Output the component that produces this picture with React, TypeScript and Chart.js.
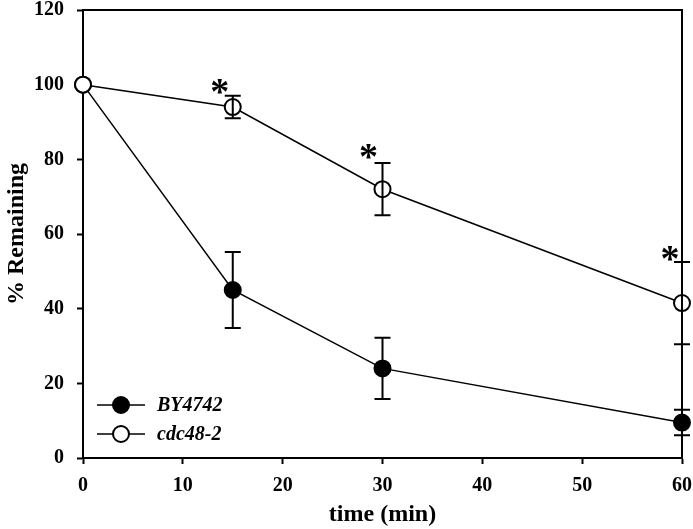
import React, { useEffect, useRef } from "react";
import { Chart, registerables } from "chart.js";

Chart.register(...registerables);

const times = [0, 15, 30, 60];
const by4742 = [100, 45, 24, 9.5];
const by4742Err = [0, 10.2, 8.2, 3.4];
const cdc48 = [100, 94, 72, 41.5];
const cdc48Err = [0, 3, 7, 11];
const asteriskX = [13.7, 28.6, 58.8];
const asteriskY = [99.6, 82, 54.9];
const xTicks = [0, 10, 20, 30, 40, 50, 60];
const yTicks = [0, 20, 40, 60, 80, 100, 120];

const SERIF = "'Liberation Serif', 'Times New Roman', serif";

const extrasPlugin = {
  id: "extras",
  afterDatasetsDraw(chart: any) {
    const { ctx, chartArea, scales } = chart;
    const xs = scales.x;
    const ys = scales.y;
    ctx.save();
    // frame (top and right)
    ctx.strokeStyle = "#000";
    ctx.lineWidth = 2;
    ctx.beginPath();
    ctx.moveTo(chartArea.left - 1, chartArea.top);
    ctx.lineTo(chartArea.right, chartArea.top);
    ctx.lineTo(chartArea.right, chartArea.bottom + 1);
    ctx.stroke();

    // error bars
    const drawErr = (vals: number[], errs: number[]) => {
      vals.forEach((v, i) => {
        const e = errs[i];
        if (!e) return;
        const px = xs.getPixelForValue(times[i]);
        const top = ys.getPixelForValue(v + e);
        const bot = ys.getPixelForValue(v - e);
        ctx.beginPath();
        ctx.moveTo(px, top);
        ctx.lineTo(px, bot);
        ctx.moveTo(px - 8, top);
        ctx.lineTo(px + 8, top);
        ctx.moveTo(px - 8, bot);
        ctx.lineTo(px + 8, bot);
        ctx.stroke();
      });
    };
    ctx.lineWidth = 2;
    drawErr(by4742, by4742Err);
    drawErr(cdc48, cdc48Err);

    // asterisks
    ctx.fillStyle = "#000";
    ctx.font = `bold 38px ${SERIF}`;
    ctx.textAlign = "center";
    ctx.textBaseline = "alphabetic";
    const m = ctx.measureText("*");
    const off = (m.actualBoundingBoxAscent - m.actualBoundingBoxDescent) / 2;
    asteriskX.forEach((ax, i) => {
      const px = xs.getPixelForValue(ax);
      const py = ys.getPixelForValue(asteriskY[i]);
      ctx.fillText("*", px, py + off);
    });

    // legend
    const rows = [
      { label: "BY4742", fill: "#000", y: chartArea.bottom - 53 },
      { label: "cdc48-2", fill: "#fff", y: chartArea.bottom - 24 },
    ];
    rows.forEach((r) => {
      const x0 = chartArea.left + 14;
      const x1 = chartArea.left + 62;
      ctx.strokeStyle = "#000";
      ctx.lineWidth = 1.5;
      ctx.beginPath();
      ctx.moveTo(x0, r.y);
      ctx.lineTo(x1, r.y);
      ctx.stroke();
      ctx.beginPath();
      ctx.arc((x0 + x1) / 2, r.y, 8, 0, Math.PI * 2);
      ctx.fillStyle = r.fill;
      ctx.fill();
      ctx.lineWidth = 2;
      ctx.stroke();
      ctx.fillStyle = "#000";
      ctx.font = `italic bold 20px ${SERIF}`;
      ctx.textAlign = "left";
      ctx.textBaseline = "middle";
      ctx.fillText(r.label, chartArea.left + 74, r.y + 1);
    });
    ctx.restore();
  },
};

export default function App() {
  const ref = useRef<HTMLCanvasElement>(null);
  useEffect(() => {
    if (!ref.current) return;
    const chart = new Chart(ref.current, {
      type: "scatter",
      data: {
        datasets: [
          {
            label: "cdc48-2",
            data: times.map((t, i) => ({ x: t, y: cdc48[i] })),
            showLine: true,
            borderColor: "#000",
            borderWidth: 1.5,
            pointRadius: 8,
            pointBackgroundColor: "#fff",
            pointBorderColor: "#000",
            pointBorderWidth: 2,
            clip: false,
          } as any,
          {
            label: "BY4742",
            data: times.map((t, i) => ({ x: t, y: by4742[i] })),
            showLine: true,
            borderColor: "#000",
            borderWidth: 1.5,
            pointRadius: 8,
            pointBackgroundColor: "#000",
            pointBorderColor: "#000",
            pointBorderWidth: 2,
            clip: false,
          } as any,
        ],
      },
      options: {
        animation: false,
        responsive: false,
        maintainAspectRatio: false,
        layout: { padding: { top: 7, right: 11, left: 0, bottom: 0 } },
        plugins: {
          legend: { display: false },
          tooltip: { enabled: false },
        },
        scales: {
          x: {
            type: "linear",
            min: 0,
            max: 60,
            afterBuildTicks: (s: any) => {
              s.ticks = xTicks.map((v) => ({ value: v }));
            },
            afterFit: (s: any) => {
              s.height = 71;
              s.paddingLeft = 0;
              s.paddingRight = 0;
            },
            ticks: {
              color: "#000",
              font: { family: SERIF, size: 20, weight: "bold" },
              padding: 10,
              maxRotation: 0,
            },
            grid: {
              drawOnChartArea: false,
              drawTicks: true,
              tickLength: 6,
              tickWidth: 2,
              tickColor: "#000",
            },
            border: { color: "#000", width: 2 },
            title: {
              display: true,
              text: "time (min)",
              color: "#000",
              font: { family: SERIF, size: 24, weight: "bold" },
              padding: { top: 0, bottom: 0 },
            },
          },
          y: {
            type: "linear",
            min: 0,
            max: 120,
            afterBuildTicks: (s: any) => {
              s.ticks = yTicks.map((v) => ({ value: v }));
            },
            afterFit: (s: any) => {
              s.width = 83;
              s.paddingTop = 0;
              s.paddingBottom = 0;
            },
            ticks: {
              color: "#000",
              font: { family: SERIF, size: 20, weight: "bold" },
              padding: 13,
            },
            grid: {
              drawOnChartArea: false,
              drawTicks: true,
              tickLength: 6,
              tickWidth: 2,
              tickColor: "#000",
            },
            border: { color: "#000", width: 2 },
            title: {
              display: true,
              text: "% Remaining",
              color: "#000",
              font: { family: SERIF, size: 24, weight: "bold" },
              padding: { top: 2, bottom: 0 },
            },
          },
        },
      },
      plugins: [extrasPlugin],
    } as any);
    return () => chart.destroy();
  }, []);
  return (
    <div style={{ position: "absolute", left: 0, top: 0, width: 693, height: 529, background: "#fff" }}>
      <canvas ref={ref} width={693} height={529} style={{ width: 693, height: 529, display: "block" }} />
    </div>
  );
}
